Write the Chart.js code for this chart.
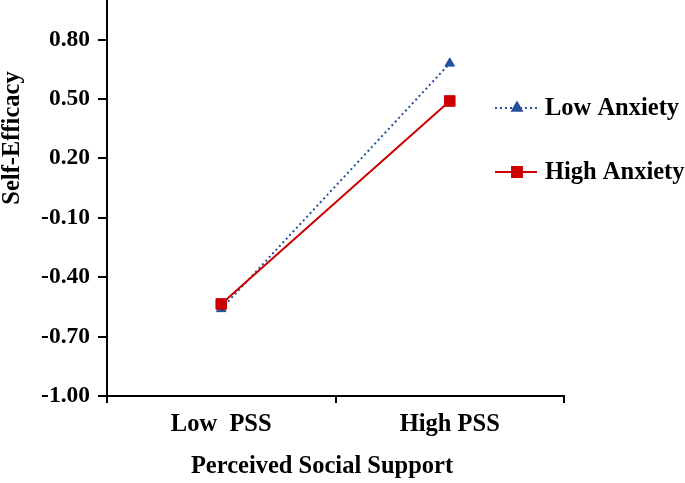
<!DOCTYPE html>
<html>
<head>
<meta charset="utf-8">
<script src="https://cdn.jsdelivr.net/npm/chart.js@4"></script>
<style>
html,body{margin:0;padding:0;background:#fff;}
canvas{display:block;}
</style>
</head>
<body>
<canvas id="c" width="685" height="483"></canvas>
<script>
const categories = ["Low  PSS", "High PSS"];
const lowAnxiety = [-0.56, 0.68];
const highAnxiety = [-0.535, 0.49];
const yTicks = [-1.00, -0.70, -0.40, -0.10, 0.20, 0.50, 0.80];
const seriesNames = ["Low Anxiety", "High Anxiety"];
const xTitle = "Perceived Social Support";
const yTitle = "Self-Efficacy";

const BLUE = "#24509f";
const RED = "#cc0000";
const FONT = "'Liberation Serif', 'Times New Roman', serif";

const overlay = {
  id: 'overlay',
  afterDraw(chart) {
    const ctx = chart.ctx;
    ctx.save();
    ctx.fillStyle = '#000';
    ctx.font = 'bold 24.5px ' + FONT;
    ctx.textAlign = 'center';
    ctx.textBaseline = 'middle';
    // x title
    ctx.fillText(xTitle, 322, 467);
    // y title
    ctx.save();
    ctx.translate(13, 138);
    ctx.rotate(-Math.PI / 2);
    ctx.fillText(yTitle, 0, 0);
    ctx.restore();
    // legend
    const items = [
      {name: seriesNames[0], color: BLUE, dash: [2, 3], style: 'triangle', y: 108},
      {name: seriesNames[1], color: RED, dash: [], style: 'rect', y: 172}
    ];
    items.forEach(it => {
      ctx.save();
      ctx.strokeStyle = it.color;
      ctx.lineWidth = 2;
      ctx.setLineDash(it.dash);
      ctx.beginPath();
      ctx.moveTo(495, it.y);
      ctx.lineTo(537, it.y);
      ctx.stroke();
      ctx.setLineDash([]);
      Chart.helpers.drawPoint(ctx, {pointStyle: it.style, radius: it.style === 'rect' ? 7 : 5.5, rotation: 0, borderWidth: 1}, 517, it.y);
      ctx.fillStyle = it.color;
      ctx.fill();
      ctx.restore();
      ctx.fillStyle = '#000';
      ctx.textAlign = 'left';
      ctx.fillText(it.name, 545, it.y + 1);
    });
    ctx.restore();
  }
};

new Chart(document.getElementById('c'), {
  type: 'line',
  data: {
    labels: categories,
    datasets: [
      {
        label: seriesNames[0],
        data: lowAnxiety,
        borderColor: BLUE,
        backgroundColor: BLUE,
        borderWidth: 2,
        borderDash: [2, 3],
        pointStyle: 'triangle',
        pointRadius: 5.5,
        pointBorderWidth: 1,
        order: 2
      },
      {
        label: seriesNames[1],
        data: highAnxiety,
        borderColor: RED,
        backgroundColor: RED,
        borderWidth: 2,
        pointStyle: 'rect',
        pointRadius: 7.5,
        pointBorderWidth: 1,
        order: 1
      }
    ]
  },
  options: {
    responsive: false,
    devicePixelRatio: 1,
    animation: false,
    layout: {autoPadding: false, padding: {top: 0, right: 121, bottom: 0, left: 0}},
    plugins: {legend: {display: false}, tooltip: {enabled: false}},
    scales: {
      x: {
        type: 'category',
        offset: true,
        grid: {offset: true, drawOnChartArea: false, drawTicks: true, tickLength: 7, color: '#000', lineWidth: 2},
        border: {color: '#000', width: 2},
        ticks: {color: '#000', font: {family: FONT, size: 24.5, weight: 'bold'}, padding: 7, maxRotation: 0},
        afterFit(s) { s.height = 87; s.paddingLeft = 0; s.paddingRight = 0; }
      },
      y: {
        min: -1.0,
        max: 1.0,
        grid: {drawOnChartArea: false, drawTicks: true, tickLength: 9, color: '#000', lineWidth: 2},
        border: {color: '#000', width: 2},
        ticks: {color: '#000', font: {family: FONT, size: 23.5, weight: 'bold'}, padding: 8,
          callback: v => Number(v).toFixed(2)},
        afterBuildTicks(s) { s.ticks = yTicks.map(v => ({value: v})); },
        afterFit(s) { s.width = 107; s.paddingTop = 0; s.paddingBottom = 0; }
      }
    }
  },
  plugins: [overlay]
});
</script>
</body>
</html>
